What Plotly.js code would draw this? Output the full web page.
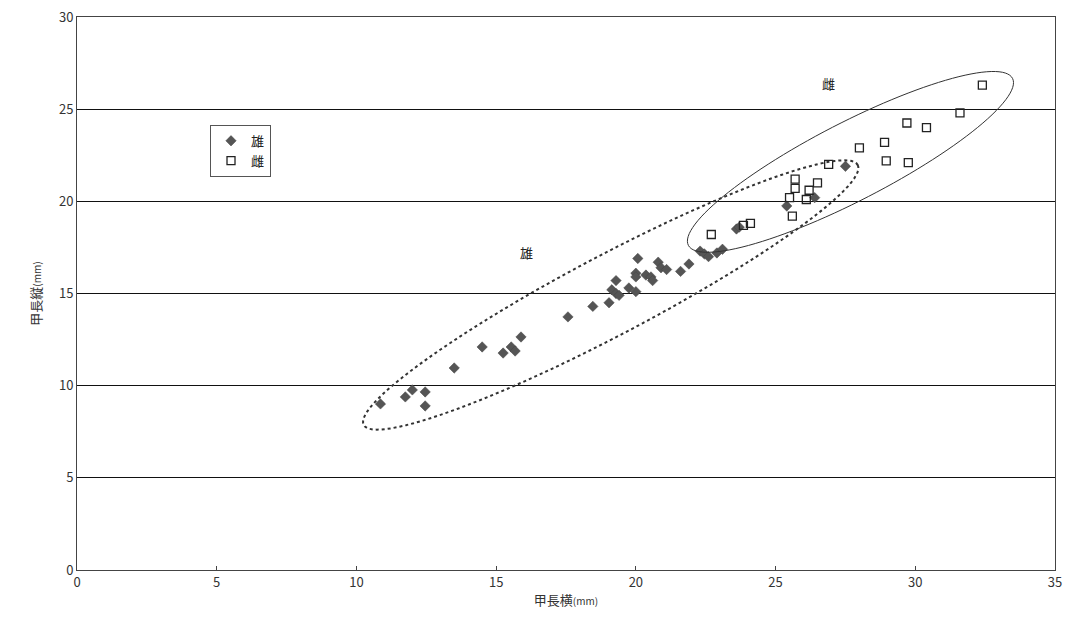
<!DOCTYPE html>
<html><head><meta charset="utf-8">
<script src="https://cdn.plot.ly/plotly-3.0.1.min.js"></script>
<style>body{margin:0;background:#fff}#chart{width:1075px;height:628px}</style>
</head><body><div id="chart"></div>
<script>
// 雄 (male) carapace width (x) and length (y), mm
const maleX = [10.86,11.75,12.0,12.46,12.46,13.5,14.5,15.25,15.54,15.68,15.89,17.57,18.46,19.04,19.14,19.29,19.4,19.29,19.75,20.0,20.0,20.0,20.07,20.36,20.54,20.6,20.8,20.9,21.1,21.6,21.9,22.3,22.45,22.6,22.9,23.1,23.6,23.7,25.4,26.4,27.5];
const maleY = [9.01,9.39,9.77,9.66,8.90,10.96,12.1,11.77,12.1,11.88,12.64,13.73,14.3,14.5,15.2,15.0,14.9,15.7,15.3,15.1,16.1,15.9,16.9,16.0,15.9,15.7,16.7,16.4,16.3,16.2,16.6,17.3,17.15,17.0,17.2,17.4,18.5,18.6,19.75,20.2,21.9];
// 雌 (female)
const femX = [22.7,23.85,24.1,25.5,25.6,25.7,25.7,26.1,26.2,26.5,26.9,28.0,28.9,28.96,29.7,29.75,30.4,31.6,32.4];
const femY = [18.2,18.7,18.8,20.2,19.2,21.2,20.7,20.1,20.6,21.0,22.0,22.9,23.2,22.2,24.25,22.1,24.0,24.8,26.3];
// ellipse parameters: center, major semi-vector, minor semi-vector (data units)
const ellMale = {c:[19.1,14.92], a:[8.84,7.05], b:[0.66,-1.92]};
const ellFem  = {c:[27.68,22.14], a:[5.80,4.53], b:[0.64,-1.88]};
const xTicks = [0,5,10,15,20,25,30,35];
const yTicks = [0,5,10,15,20,25,30];

function ellipsePath(e){
  let p='';
  for(let i=0;i<=120;i++){
    const t=2*Math.PI*i/120;
    const x=e.c[0]+Math.cos(t)*e.a[0]+Math.sin(t)*e.b[0];
    const y=e.c[1]+Math.cos(t)*e.a[1]+Math.sin(t)*e.b[1];
    p+=(i===0?'M':'L')+x.toFixed(4)+','+y.toFixed(4);
  }
  return p+'Z';
}
const font = "'Noto Sans CJK JP', 'Noto Sans', sans-serif";
const traces = [
  {x:maleX,y:maleY,type:'scatter',mode:'markers',name:'雄',
   marker:{symbol:'diamond',size:8,color:'#555555',line:{color:'#444',width:0.5}}},
  {x:femX,y:femY,type:'scatter',mode:'markers',name:'雌',
   marker:{symbol:'square-open',size:8,color:'#222',line:{width:1.3}}}
];
const layout = {
  width:1075,height:628,
  margin:{l:77,r:20,t:17,b:58},
  paper_bgcolor:'#fff',plot_bgcolor:'#fff',
  font:{family:font,color:'#333'},
  showlegend:true,
  legend:{x:0.136,y:0.805,xanchor:'left',yanchor:'top',bordercolor:'#555',borderwidth:1,
          bgcolor:'#fff',font:{size:13,color:'#222'},itemwidth:30,tracegroupgap:0},
  xaxis:{range:[0,35],tickvals:xTicks,ticktext:xTicks.map(String),showgrid:false,zeroline:false,
         showline:true,linecolor:'#444',linewidth:1,mirror:true,ticks:'inside',ticklen:4,tickcolor:'#444',
         tickfont:{size:13,color:'#333'},
         title:{text:'甲長横<span style="font-size:10px">(mm)</span>',font:{size:13,color:'#333'},standoff:6}},
  yaxis:{range:[0,30],tickvals:yTicks,ticktext:yTicks.map(String),showgrid:true,gridcolor:'#111',gridwidth:1,
         zeroline:false,showline:true,linecolor:'#444',linewidth:1,mirror:true,ticks:'',
         tickfont:{size:13,color:'#333'},
         title:{text:'甲長縦<span style="font-size:10px">(mm)</span>',font:{size:13,color:'#333'},standoff:14}},
  shapes:[
    {type:'path',xref:'x',yref:'y',path:ellipsePath(ellMale),line:{color:'#333',width:2,dash:'dot'}},
    {type:'path',xref:'x',yref:'y',path:ellipsePath(ellFem),line:{color:'#333',width:1}}
  ],
  annotations:[
    {x:16.07,y:17.2,xref:'x',yref:'y',text:'雄',showarrow:false,font:{size:13,color:'#222'}},
    {x:26.9,y:26.4,xref:'x',yref:'y',text:'雌',showarrow:false,font:{size:13,color:'#222'}}
  ]
};
Plotly.newPlot('chart',traces,layout,{displayModeBar:false});
</script></body></html>
